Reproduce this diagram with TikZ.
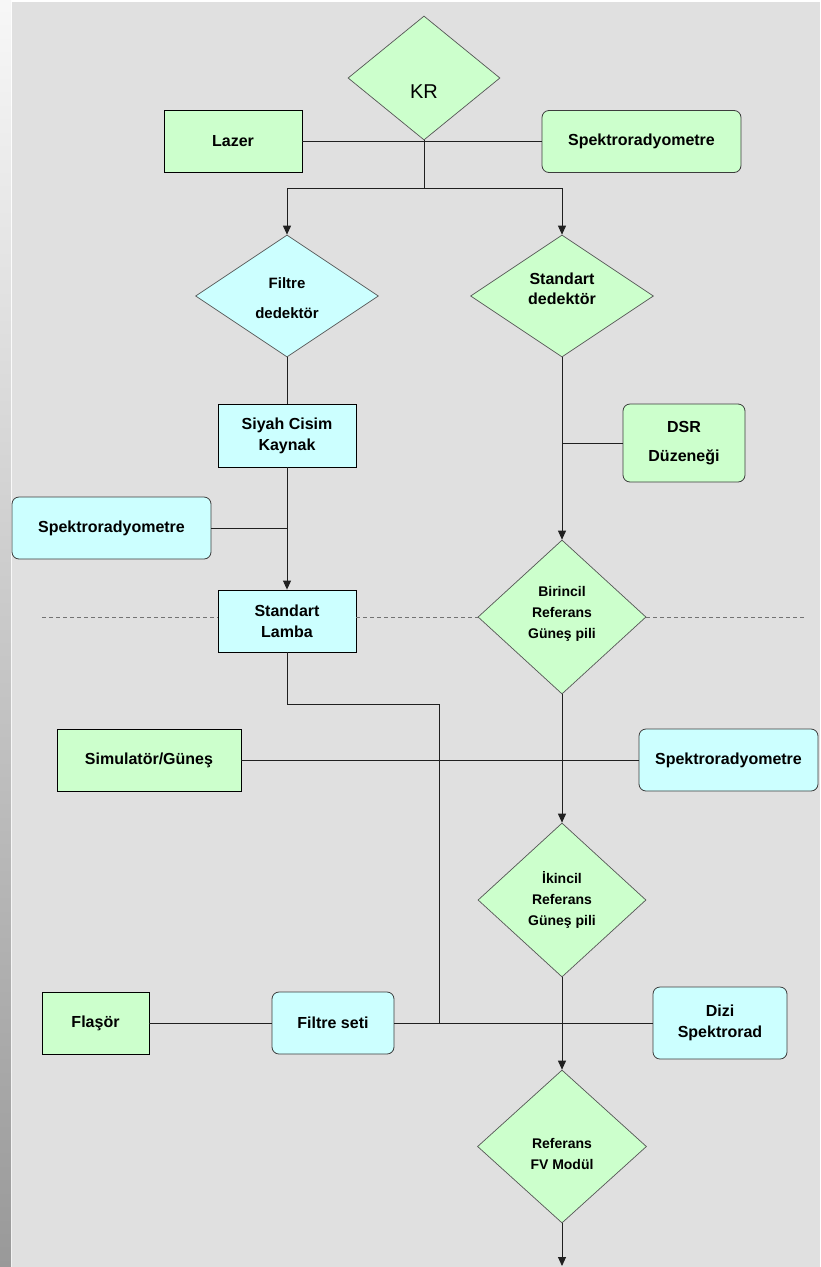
\documentclass[tikz,border=0pt]{standalone}
\usepackage{fontspec}
\setmainfont{Liberation Sans}
\usetikzlibrary{arrows.meta}
\usetikzlibrary{shapes.geometric, positioning, calc}
\definecolor{bgray}{HTML}{E0E0E0}
\definecolor{kgreen}{HTML}{CCFFCC}
\definecolor{kcyan}{HTML}{CCFFFF}
\definecolor{kline}{HTML}{202020}
\definecolor{kedge}{HTML}{555555}

\begin{document}
\begin{tikzpicture}[x=1pt, y=-1pt, >={Triangle[length=9pt, width=8pt]},
    every node/.style={inner sep=0pt},
    box/.style={rectangle, draw=black, line width=0.8pt, align=center, font=\bfseries\fontsize{16}{21}\selectfont},
    rbox/.style={box, draw=kedge!70!black, rounded corners=7pt},
    dmd/.style={diamond, aspect=1, draw=kedge, line width=0.7pt},
    dtxt/.style={align=center, font=\bfseries\fontsize{14}{21}\selectfont},
    wire/.style={draw=kline, line width=0.9pt},
    divider/.style={draw=black!55, line width=0.8pt, dash pattern=on 4pt off 3pt}]

    % page
    \fill[white] (0,0) rectangle (820,1267);
    \fill[bgray] (12,2) rectangle (820,1267);
    \shade[top color=black!3, bottom color=black!40] (0,0) rectangle (11,1267);
    \useasboundingbox (0,0) rectangle (820,1267);

    % upper part
    \node[dmd, fill=kgreen, minimum width=152pt, minimum height=124pt,
        label={[font=\fontsize{20}{24}\selectfont, yshift=-14pt]center:KR}] (kr) at (424,78) {};
    \node[box, fill=kgreen, minimum width=138pt, minimum height=62pt] (lazer) at (233,141.5) {Lazer};
    \node[rbox, fill=kgreen, minimum width=199pt, minimum height=62pt] (spek1) at (641.5,141.5) {Spektroradyometre};

    \node[dmd, fill=kcyan, minimum width=183pt, minimum height=122pt,
        label={[dtxt, font=\bfseries\fontsize{15}{21}\selectfont, yshift=-2pt]center:{Filtre\\[9pt]dedektör}}] (filtre) at (287,296) {};
    \node[dmd, fill=kgreen, minimum width=183pt, minimum height=122pt,
        label={[dtxt, font=\bfseries\fontsize{16}{20}\selectfont, yshift=7pt]center:{Standart\\dedektör}}] (stdet) at (562,296) {};

    \node[box, fill=kcyan, minimum width=138pt, minimum height=63pt] (siyah) at (287,435.5) {Siyah Cisim\\Kaynak};
    \node[rbox, fill=kgreen, minimum width=122pt, minimum height=78pt] (dsr) at (684,443) {DSR\\[8pt]Düzeneği};
    \node[rbox, fill=kcyan, minimum width=199pt, minimum height=62pt] (spek2) at (111.5,528) {Spektroradyometre};

    \node[box, fill=kcyan, minimum width=138pt, minimum height=62pt] (lamba) at (287,621) {Standart\\Lamba};
    \node[dmd, fill=kgreen, minimum width=168pt, minimum height=154pt,
        label={[dtxt, yshift=3pt]center:{Birincil\\Referans\\Güneş pili}}] (birincil) at (562,617) {};

    % lower part
    \node[box, fill=kgreen, minimum width=184pt, minimum height=62pt] (sim) at (149,760) {Simulatör/Güneş};
    \node[rbox, fill=kcyan, minimum width=179pt, minimum height=62pt] (spek3) at (728.5,760) {Spektroradyometre};
    \node[dmd, fill=kgreen, minimum width=168pt, minimum height=154pt,
        label={[dtxt]center:{İkincil\\Referans\\Güneş pili}}] (ikincil) at (562,900) {};

    \node[box, fill=kgreen, minimum width=107pt, minimum height=62pt] (flasor) at (95.5,1023) {Flaşör};
    \node[rbox, fill=kcyan, minimum width=122pt, minimum height=62pt] (fset) at (333,1023) {Filtre seti};
    \node[rbox, fill=kcyan, minimum width=134pt, minimum height=72pt] (dizi) at (720,1023) {Dizi\\Spektrorad};
    \node[dmd, fill=kgreen, minimum width=169pt, minimum height=153pt,
        label={[dtxt, yshift=-7pt]center:{Referans\\FV Modül}}] (refmod) at (562,1146.5) {};

    % connections
    \coordinate (split) at (424,188);
    \draw[wire] (lazer.east) -- (spek1.west);
    \draw[wire] (kr.south) -- (split);
    \draw[wire, ->] (split) -| (filtre.north);
    \draw[wire, ->] (split) -| (stdet.north);

    \draw[wire] (filtre.south) -- (siyah.north);
    \draw[wire, ->] (siyah.south) -- (lamba.north);
    \draw[wire] (spek2.east) -- (spek2.east -| siyah.south);
    \draw[wire, ->] (stdet.south) -- (birincil.north);
    \draw[wire] (dsr.west) -- (dsr.west -| stdet.south);

    \coordinate (dashL) at (42,617);
    \coordinate (dashR) at (805,617);
    \draw[divider] (dashL) -- (dashL -| lamba.west);
    \draw[divider] (lamba.east |- dashL) -- (birincil.west);
    \draw[divider] (birincil.east) -- (dashR);

    \coordinate (jog) at (439,704);
    \draw[wire] (lamba.south) |- (jog) -- (jog |- fset.east);
    \draw[wire] (sim.east) -- (spek3.west);
    \draw[wire, ->] (birincil.south) -- (ikincil.north);
    \draw[wire] (flasor.east) -- (fset.west);
    \draw[wire] (fset.east) -- (dizi.west);
    \draw[wire, ->] (ikincil.south) -- (refmod.north);

    \coordinate (tail) at (562,1266);
    \draw[wire, ->] (refmod.south) -- (tail);

\end{tikzpicture}
\end{document}
